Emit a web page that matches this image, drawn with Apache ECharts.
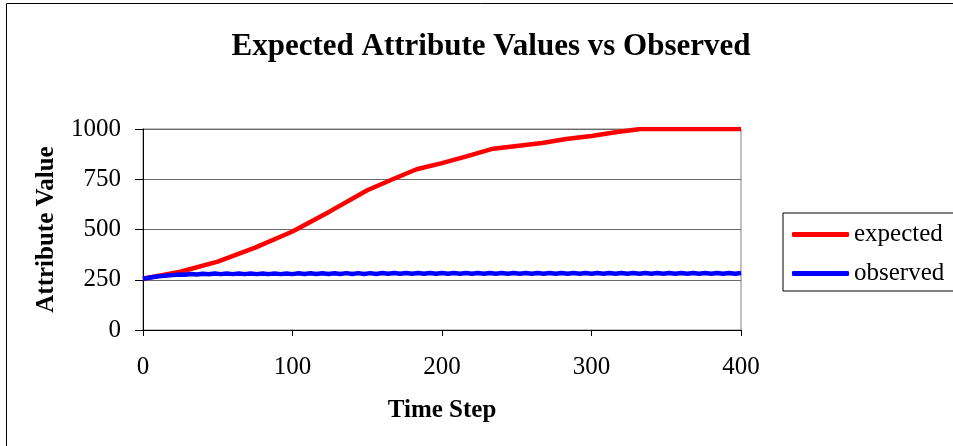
<!DOCTYPE html>
<html><head><meta charset="utf-8">
<script src="https://cdn.jsdelivr.net/npm/echarts@6/dist/echarts.min.js"></script>
<style>html,body{margin:0;padding:0;background:#fff}#c{width:953px;height:446px}</style>
</head><body><div id="c"></div>
<script>
var titleText = 'Expected Attribute Values vs Observed';
var xName = 'Time Step';
var yName = 'Attribute Value';
var seriesNames = ['expected', 'observed'];
var expectedSteps = [0, 25, 50, 75, 100, 125, 150, 167, 183, 200, 217, 233, 250, 267, 283, 300, 317, 333, 350, 400];
var expectedValues = [255, 290, 340, 410, 490, 590, 695, 750, 800, 830, 865, 900, 915, 930, 950, 965, 985, 1000, 1000, 1000];
var observedStep = 4;
var observedValues = [255, 260, 265, 268, 271, 273, 276, 275, 279, 276, 280, 277, 281, 278, 281, 278, 281, 278, 281, 278,
  281, 278, 281, 278, 281, 278, 282, 279, 282, 279, 282, 279, 282, 279, 283, 279, 283, 279, 283, 279,
  284, 280, 284, 280, 284, 280, 284, 280, 284, 280, 284, 280, 284, 280, 284, 280, 284, 280, 284, 280,
  284, 280, 284, 280, 284, 280, 284, 280, 284, 280, 284, 280, 284, 280, 284, 280, 284, 280, 284, 280,
  284, 280, 284, 280, 284, 280, 284, 280, 284, 280, 284, 280, 284, 280, 284, 280, 284, 280, 284, 280, 284];

var expectedData = expectedSteps.map(function (s, i) { return [s, expectedValues[i]]; });
var observedData = observedValues.map(function (v, i) { return [i * observedStep, v]; });

var font = 'Liberation Serif, Times New Roman, serif';
var chart = echarts.init(document.getElementById('c'), null, {renderer: 'canvas'});
chart.setOption({
  animation: false,
  backgroundColor: '#fff',
  textStyle: {fontFamily: font},
  title: {
    text: titleText, left: 486, top: 26, textAlign: 'center',
    textStyle: {fontFamily: font, fontSize: 31, fontWeight: 'bold', color: '#000'}
  },
  graphic: [{
    type: 'rect', left: 4, top: 1, z: -1, silent: true,
    shape: {width: 960, height: 460},
    style: {fill: 'none', stroke: '#000', lineWidth: 1}
  }],
  legend: {
    orient: 'vertical', left: 783, top: 213,
    borderColor: '#000', borderWidth: 1, padding: [9, 10, 5, 9],
    itemGap: 14, itemWidth: 57, itemHeight: 5, icon: 'roundRect',
    textStyle: {fontFamily: font, fontSize: 25, color: '#000', padding: [0, 0, 0, 0]},
    data: seriesNames
  },
  grid: {
    left: 143, right: 212, top: 129, bottom: 116,
    show: true, borderColor: '#808080', borderWidth: 1, backgroundColor: '#fff'
  },
  xAxis: {
    type: 'value', min: 0, max: 400, interval: 100,
    name: xName, nameLocation: 'middle', nameGap: 68,
    nameTextStyle: {fontFamily: font, fontSize: 25, fontWeight: 'bold', color: '#000'},
    axisLine: {show: true, onZero: false, lineStyle: {color: '#000', width: 1}},
    axisTick: {show: true, inside: false, length: 6, lineStyle: {color: '#000'}},
    axisLabel: {fontFamily: font, fontSize: 25, color: '#000', margin: 25},
    splitLine: {show: false}
  },
  yAxis: {
    type: 'value', min: 0, max: 1000, interval: 250,
    name: yName, nameLocation: 'middle', nameGap: 84,
    nameTextStyle: {fontFamily: font, fontSize: 25, fontWeight: 'bold', color: '#000'},
    axisLine: {show: true, lineStyle: {color: '#000', width: 1}},
    axisTick: {show: true, inside: false, length: 8, lineStyle: {color: '#000'}},
    axisLabel: {fontFamily: font, fontSize: 25, color: '#000', margin: 22,
      formatter: function (v) { return String(v); }},
    splitLine: {show: true, lineStyle: {color: '#6a6a6a', width: 1}}
  },
  series: [
    {name: seriesNames[0], type: 'line', data: expectedData, symbol: 'none',
     lineStyle: {color: '#ff0000', width: 4.5}, itemStyle: {color: '#ff0000'}, z: 2},
    {name: seriesNames[1], type: 'line', data: observedData, symbol: 'none',
     lineStyle: {color: '#0000ff', width: 4.5}, itemStyle: {color: '#0000ff'}, z: 3}
  ]
});
</script></body></html>
